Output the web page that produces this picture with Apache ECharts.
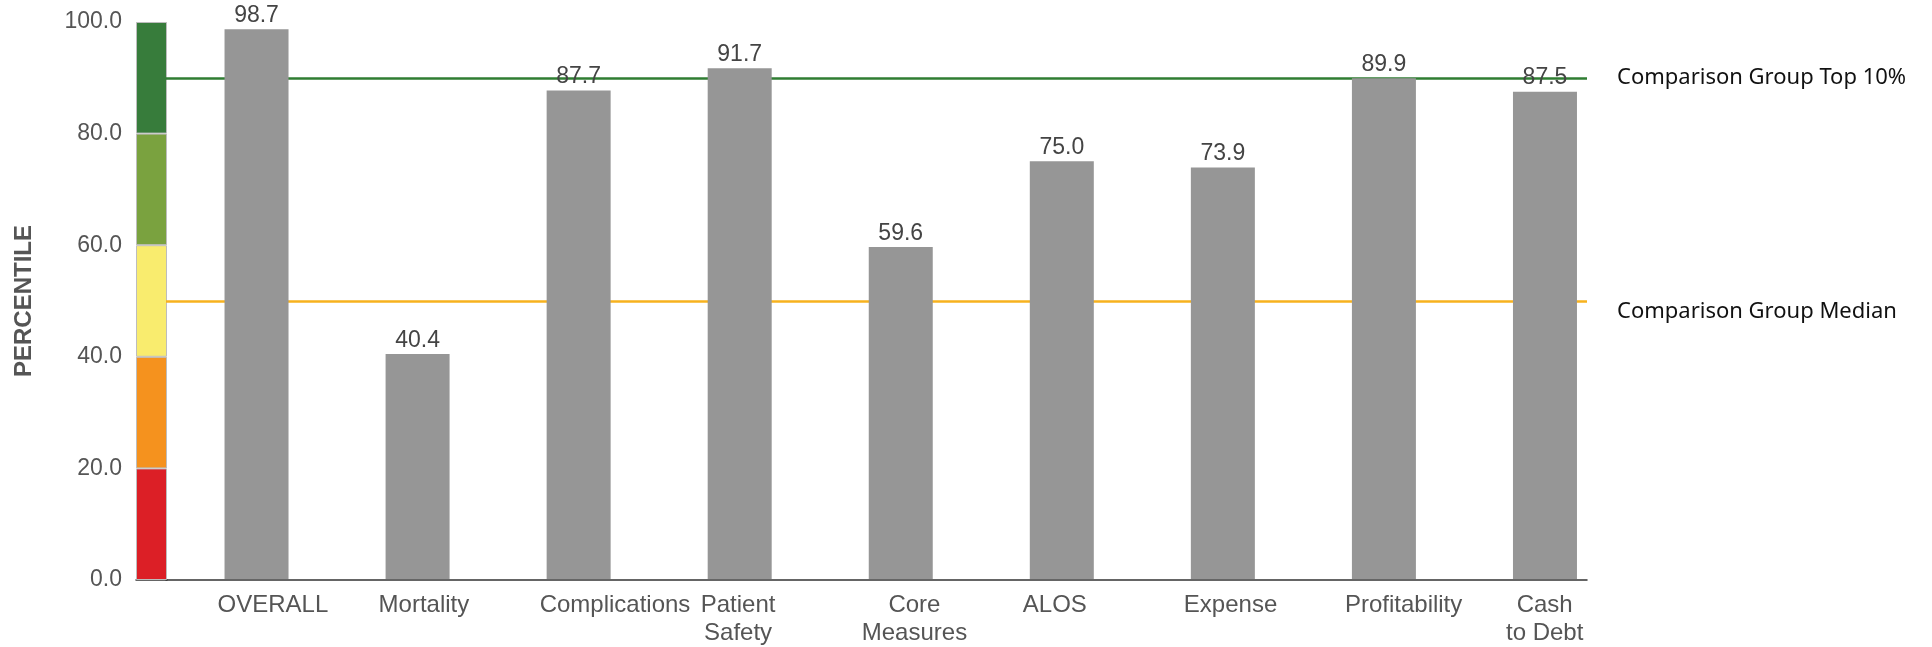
<!DOCTYPE html>
<html>
<head>
<meta charset="utf-8">
<script src="https://cdn.jsdelivr.net/npm/echarts@6/dist/echarts.min.js"></script>
<style>
    html, body { margin: 0; padding: 0; background: #fff; }
    #main { width: 1932px; height: 647px; }
</style>
</head>
<body>
<div id="main"></div>
<script>
    // 指標名稱與百分位
    var categories = ['OVERALL', 'Mortality', 'Complications', 'Patient\nSafety', 'Core\nMeasures', 'ALOS', 'Expense', 'Profitability', 'Cash\nto Debt'];
    var percentiles = [98.7, 40.4, 87.7, 91.7, 59.6, 75.0, 73.9, 89.9, 87.5];

    // 左側色帶 (每段 20)
    var bandSizes = [20, 20, 20, 20, 20];
    var bandColors = ['#dc1f26', '#f5921e', '#f9ec6e', '#7aa23f', '#377c3b'];

    // 參考線
    var refLines = [
        { name: 'Comparison Group Top 10%', value: 90, color: '#2f7d32' },
        { name: 'Comparison Group Median', value: 50, color: '#f7b21e' }
    ];

    // y 軸刻度
    var yMin = 0, yMax = 100, yStep = 20;

    var font = 'Liberation Sans, Arial, sans-serif';
    var plotTop = 22, plotHeight = 558;

    var myChart = echarts.init(document.getElementById('main'));

    var bandSeries = bandSizes.map(function (v, i) {
        return {
            type: 'bar',
            xAxisIndex: 0,
            yAxisIndex: 0,
            stack: 'band',
            barWidth: '100%',
            z: 3,
            silent: true,
            itemStyle: { color: bandColors[i], borderColor: '#bdbdbd', borderWidth: 1 },
            data: [v]
        };
    });

    var option = {
        animation: false,
        grid: [
            // 色帶
            { left: 136, top: plotTop, width: 31, height: plotHeight },
            // 參考線與底線
            { left: 166, top: plotTop, width: 1421, height: plotHeight },
            // 長條
            { left: 176, top: plotTop, width: 1449.5, height: plotHeight }
        ],
        xAxis: [
            {
                gridIndex: 0, type: 'category', data: [''],
                axisLine: { lineStyle: { color: '#333', width: 1.5 } },
                axisTick: { show: false }, axisLabel: { show: false }
            },
            {
                gridIndex: 1, type: 'value', min: 0, max: 1,
                axisLine: { show: true, onZero: false, lineStyle: { color: '#333', width: 1.5 } },
                axisTick: { show: false }, axisLabel: { show: false }, splitLine: { show: false }
            },
            {
                gridIndex: 2, type: 'category', data: categories,
                axisLine: { show: false }, axisTick: { show: false },
                axisLabel: {
                    interval: 0,
                    margin: 12,
                    align: 'left',
                    padding: [0, 0, 0, -39],
                    fontSize: 24,
                    lineHeight: 28,
                    color: '#555',
                    fontFamily: font,
                    formatter: function (value) {
                        return value.split('\n').map(function (s) { return '{c|' + s + '}'; }).join('\n');
                    },
                    rich: {
                        c: { align: 'center', fontSize: 24, lineHeight: 28, color: '#555', fontFamily: font }
                    }
                }
            }
        ],
        yAxis: [
            {
                gridIndex: 0, type: 'value', min: yMin, max: yMax, interval: yStep,
                name: 'PERCENTILE',
                nameLocation: 'middle',
                nameGap: 100,
                nameTextStyle: { fontSize: 24, fontWeight: 'bold', color: '#555', fontFamily: font },
                axisLine: { show: false }, axisTick: { show: false }, splitLine: { show: false },
                axisLabel: {
                    margin: 14, fontSize: 23, color: '#555', fontFamily: font,
                    formatter: function (v) { return v.toFixed(1); }
                }
            },
            {
                gridIndex: 1, type: 'value', min: yMin, max: yMax, show: false
            },
            {
                gridIndex: 2, type: 'value', min: yMin, max: yMax, show: false
            }
        ],
        series: bandSeries.concat([
            {
                type: 'line',
                xAxisIndex: 1,
                yAxisIndex: 1,
                data: [],
                z: 2,
                markLine: {
                    silent: true,
                    symbol: 'none',
                    animation: false,
                    data: refLines.map(function (r, i) {
                        return {
                            yAxis: r.value,
                            lineStyle: { color: r.color, width: 2.5, type: 'solid' },
                            label: {
                                show: true,
                                position: 'end',
                                distance: 30,
                                formatter: r.name,
                                fontSize: 22,
                                color: '#111',
                                fontFamily: 'Noto Sans, sans-serif',
                                verticalAlign: i === 0 ? 'middle' : 'top'
                            }
                        };
                    })
                }
            },
            {
                type: 'bar',
                xAxisIndex: 2,
                yAxisIndex: 2,
                barWidth: 64,
                z: 5,
                itemStyle: { color: '#969696' },
                label: {
                    show: true,
                    position: 'top',
                    distance: 2,
                    fontSize: 23,
                    color: '#444',
                    fontFamily: font,
                    formatter: function (p) { return p.value.toFixed(1); }
                },
                data: percentiles
            }
        ])
    };

    myChart.setOption(option);

    window.addEventListener('resize', function () {
        myChart.resize();
    });
</script>
</body>
</html>
